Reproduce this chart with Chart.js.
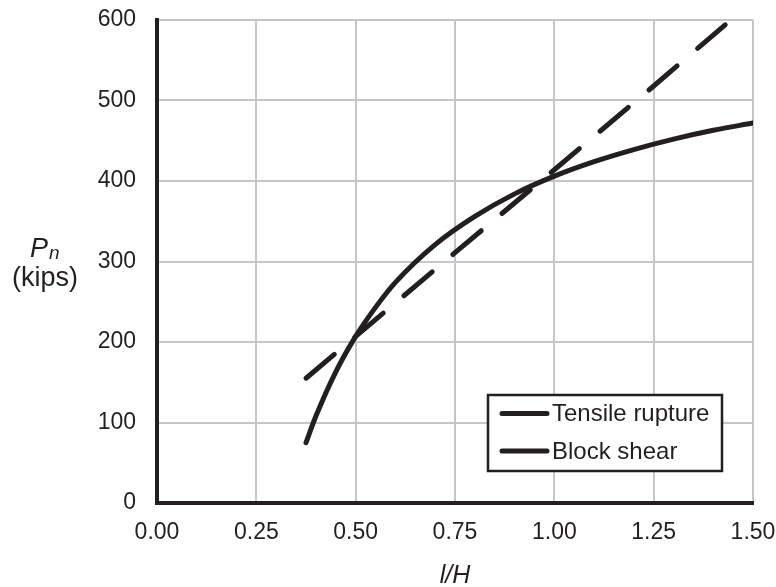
<!DOCTYPE html>
<html>
<head>
<meta charset="utf-8">
<script src="https://cdn.jsdelivr.net/npm/chart.js@4.4.1/dist/chart.umd.min.js"></script>
<style>
  html, body { margin: 0; padding: 0; background: #fff; }
  canvas { display: block; }
</style>
</head>
<body>
<canvas id="chart" width="776" height="587"></canvas>
<script>
// Nominal strength vs. weld length ratio l/H
const tensileRatio = [0.375, 0.40, 0.45, 0.50, 0.55, 0.60, 0.70, 0.80, 0.90, 1.00, 1.10, 1.20, 1.30, 1.40, 1.50];
const tensileKips  = [75, 108, 163, 207, 243, 274, 321, 356, 384, 406, 424, 439, 452, 463, 472];

const blockRatio = [0.375, 0.50, 0.75, 1.00, 1.25, 1.43];
const blockKips  = [155, 207, 311, 414, 518, 594];

const xTicks = [0, 0.25, 0.5, 0.75, 1.0, 1.25, 1.5];
const yTicks = [0, 100, 200, 300, 400, 500, 600];

const seriesNames = ['Tensile rupture', 'Block shear'];

const INK = '#231f20';
const GRID = '#c6c6ca';
const FONT = '"Liberation Sans", Arial, sans-serif';

const toPoints = (xs, ys) => xs.map((x, i) => ({ x: x, y: ys[i] }));

// keep the plot frame fixed: no extra room for overhanging tick labels
const noOverhang = (s) => {
  s.paddingLeft = 0;
  s.paddingRight = 0;
  s.paddingTop = 0;
  s.paddingBottom = 0;
};

// Horizontal y-axis title, x-axis title and an in-plot legend box
const annotations = {
  id: 'annotations',
  afterDraw(chart) {
    const ctx = chart.ctx;
    const area = chart.chartArea;
    ctx.save();
    ctx.fillStyle = INK;

    // y title: P_n (kips)
    ctx.textBaseline = 'alphabetic';
    ctx.textAlign = 'left';
    ctx.font = 'italic 27px ' + FONT;
    ctx.fillText('P', 30, 257);
    ctx.font = 'italic 19px ' + FONT;
    ctx.fillText('n', 49, 259);
    ctx.font = '27px ' + FONT;
    ctx.textAlign = 'center';
    ctx.fillText('(kips)', 45, 286);

    // x title: l/H
    ctx.font = 'italic 25px ' + FONT;
    ctx.fillText('l/H', (area.left + area.right) / 2, 583);

    // legend
    const bx = 488, by = 395, bw = 234, bh = 76;
    ctx.fillStyle = '#fff';
    ctx.fillRect(bx, by, bw, bh);
    ctx.lineWidth = 2.5;
    ctx.strokeStyle = INK;
    ctx.strokeRect(bx, by, bw, bh);
    const rows = [413.5, 451];
    chart.data.datasets.forEach((ds, i) => {
      ctx.beginPath();
      ctx.lineWidth = 5;
      ctx.lineCap = 'round';
      ctx.setLineDash([]);
      ctx.moveTo(502, rows[i]);
      ctx.lineTo(547, rows[i]);
      ctx.stroke();
      ctx.fillStyle = INK;
      ctx.font = '24px ' + FONT;
      ctx.textAlign = 'left';
      ctx.textBaseline = 'middle';
      ctx.fillText(ds.label, 552, rows[i] + 1);
    });
    ctx.restore();
  }
};

new Chart(document.getElementById('chart'), {
  type: 'line',
  data: {
    datasets: [
      {
        label: seriesNames[0],
        data: toPoints(tensileRatio, tensileKips),
        borderColor: INK,
        borderWidth: 5,
        borderCapStyle: 'round',
        cubicInterpolationMode: 'monotone',
        pointRadius: 0,
        fill: false
      },
      {
        label: seriesNames[1],
        data: toPoints(blockRatio, blockKips),
        borderColor: INK,
        borderWidth: 5,
        borderCapStyle: 'round',
        borderDash: [37, 27],
        tension: 0,
        pointRadius: 0,
        fill: false
      }
    ]
  },
  options: {
    responsive: false,
    animation: false,
    devicePixelRatio: 1,
    layout: { autoPadding: false, padding: { left: 0, right: 23, top: 20, bottom: 0 } },
    plugins: {
      legend: { display: false },
      tooltip: { enabled: false }
    },
    scales: {
      x: {
        type: 'linear',
        min: 0,
        max: 1.5,
        afterBuildTicks: (s) => { s.ticks = xTicks.map(v => ({ value: v })); },
        afterFit: (s) => { s.height = 84; noOverhang(s); },
        grid: { color: GRID, lineWidth: 2, drawTicks: false },
        border: { color: INK, width: 4 },
        ticks: {
          padding: 16,
          color: INK,
          font: { family: FONT, size: 23 },
          callback: (v) => Number(v).toFixed(2)
        }
      },
      y: {
        type: 'linear',
        min: 0,
        max: 600,
        afterBuildTicks: (s) => { s.ticks = yTicks.map(v => ({ value: v })); },
        afterFit: (s) => { s.width = 157; noOverhang(s); },
        grid: { color: GRID, lineWidth: 2, drawTicks: false },
        border: { color: INK, width: 4 },
        ticks: {
          padding: 21,
          color: INK,
          font: { family: FONT, size: 23 },
          callback: (v) => String(v)
        }
      }
    }
  },
  plugins: [annotations]
});
</script>
</body>
</html>
